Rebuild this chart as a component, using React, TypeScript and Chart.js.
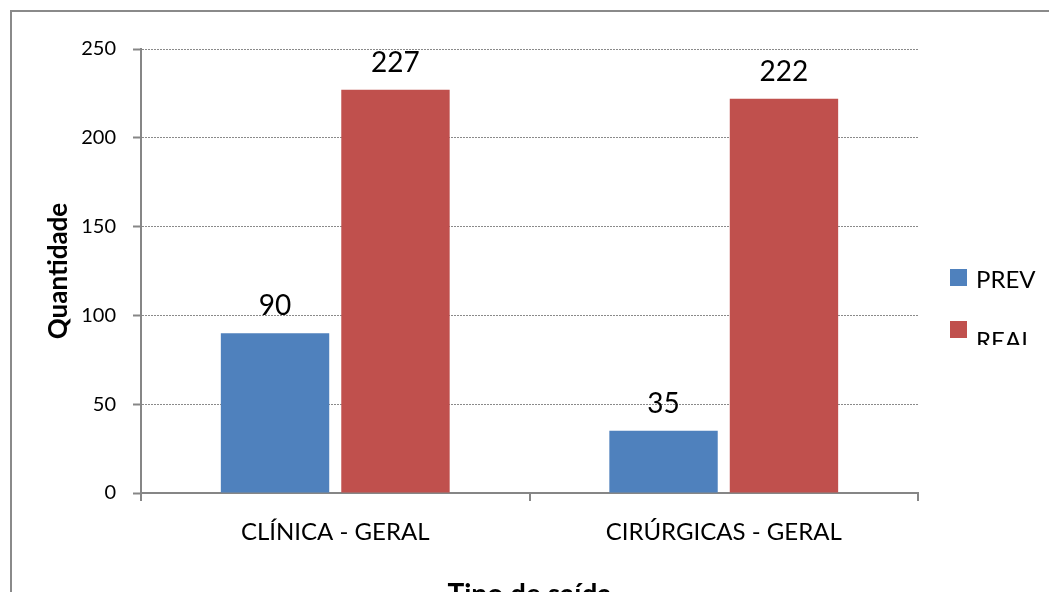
import React, { useEffect, useRef } from "react";
import { Chart, registerables } from "chart.js";

Chart.register(...registerables);

const categories = ["CLÍNICA - GERAL", "CIRÚRGICAS - GERAL"];
const prevValues = [90, 35];
const realValues = [227, 222];
const seriesNames = ["PREV", "REAL"];
const seriesColors = ["#4F81BD", "#C0504D"];
const yTitle = "Quantidade";
const xTitle = "Tipo de saída";

const FONT = "Lato, 'Liberation Sans', sans-serif";

const dataLabelPlugin = {
  id: "dataLabels",
  afterDatasetsDraw(chart: any) {
    const ctx = chart.ctx;
    ctx.save();
    ctx.font = `28px ${FONT}`;
    ctx.fillStyle = "#000";
    ctx.textAlign = "center";
    ctx.textBaseline = "alphabetic";
    chart.data.datasets.forEach((ds: any, i: number) => {
      const meta = chart.getDatasetMeta(i);
      meta.data.forEach((el: any, j: number) => {
        ctx.fillText(String(ds.data[j]), el.x, el.y - 18);
      });
    });
    ctx.restore();
  },
};

const legendPlugin = {
  id: "customLegend",
  afterDraw(chart: any) {
    const ctx = chart.ctx;
    const x = chart.chartArea.right + 32;
    const tops = [269, 321];
    const baselines = [288, 349];
    ctx.save();
    ctx.beginPath();
    ctx.rect(0, 0, chart.width, 345);
    ctx.clip();
    ctx.font = `24px ${FONT}`;
    ctx.textAlign = "left";
    ctx.textBaseline = "alphabetic";
    chart.data.datasets.forEach((ds: any, i: number) => {
      ctx.fillStyle = ds.backgroundColor;
      ctx.fillRect(x, tops[i], 17, 17);
      ctx.fillStyle = "#000";
      ctx.fillText(ds.label, x + 26, baselines[i]);
    });
    ctx.restore();
  },
};

export default function App() {
  const ref = useRef<HTMLCanvasElement>(null);

  useEffect(() => {
    if (!ref.current) return;
    const chart = new Chart(ref.current, {
      type: "bar",
      data: {
        labels: categories,
        datasets: [
          { label: seriesNames[0], data: prevValues, backgroundColor: seriesColors[0] },
          { label: seriesNames[1], data: realValues, backgroundColor: seriesColors[1] },
        ],
      },
      options: {
        responsive: false,
        animation: false,
        devicePixelRatio: 1,
        categoryPercentage: 0.62,
        barPercentage: 0.9,
        layout: { padding: { left: 0, top: 49, right: 131, bottom: 27 } },
        plugins: {
          legend: { display: false },
          tooltip: { enabled: false },
          title: { display: false },
        },
        scales: {
          x: {
            afterFit: (s: any) => {
              s.height = 120;
            },
            grid: {
              display: true,
              drawOnChartArea: false,
              drawTicks: true,
              tickLength: 8,
              color: "#868686",
              lineWidth: 2,
            },
            border: { display: true, color: "#868686", width: 2 },
            ticks: {
              color: "#000",
              padding: 17,
              font: { family: FONT, size: 24 },
            },
            title: {
              display: true,
              text: xTitle,
              color: "#000",
              padding: { top: 0, bottom: 1 },
              font: { family: FONT, size: 28, weight: "bold" },
            },
          },
          y: {
            min: 0,
            max: 250,
            afterFit: (s: any) => {
              s.width = 141;
            },
            grid: {
              color: "#8a8a8a",
              lineWidth: 1,
              tickLength: 8,
              tickColor: "#868686",
              tickWidth: 2,
              tickBorderDash: [],
            } as any,
            border: { display: true, color: "#868686", width: 2, dash: [2, 1] },
            ticks: {
              stepSize: 50,
              color: "#000",
              padding: 17,
              font: { family: FONT, size: 20 },
            },
            title: {
              display: true,
              text: yTitle,
              color: "#000",
              padding: { top: 43, bottom: 0 },
              font: { family: FONT, size: 26, weight: "bold" },
            },
          },
        },
      } as any,
      plugins: [dataLabelPlugin, legendPlugin],
    });
    return () => chart.destroy();
  }, []);

  return (
    <div
      style={{
        position: "fixed",
        left: 0,
        top: 0,
        width: 1049,
        height: 592,
        overflow: "hidden",
        background: "#fff",
      }}
    >
      <div
        style={{
          position: "absolute",
          left: 10,
          top: 10,
          width: 1200,
          height: 800,
          borderLeft: "2px solid #8a8a8a",
          borderTop: "2px solid #8a8a8a",
        }}
      />
      <canvas
        ref={ref}
        width={1049}
        height={640}
        style={{ position: "absolute", left: 0, top: 0, width: 1049, height: 640 }}
      />
    </div>
  );
}
